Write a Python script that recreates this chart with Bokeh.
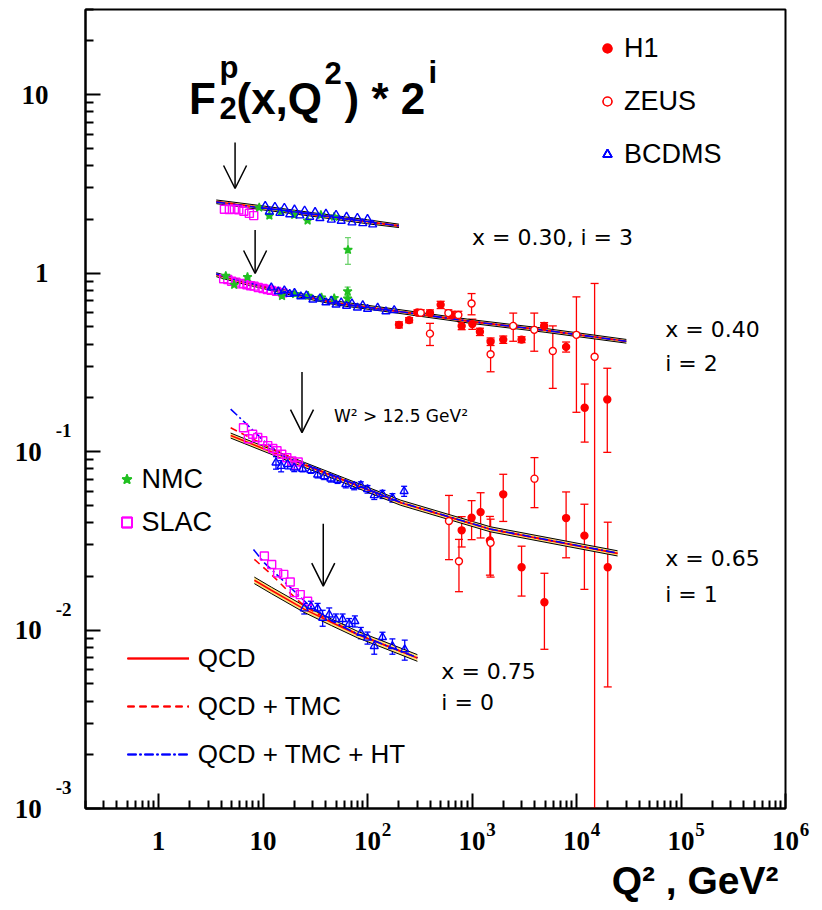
import math
from bokeh.plotting import figure
from bokeh.models import (ColumnDataSource, Range1d, FixedTicker, Whisker, TeeHead,
                          Arrow, OpenHead, Label, Legend, LegendItem, LogAxis,
                          AllLabels, Title)
from bokeh.embed import file_html
from bokeh.resources import INLINE

# ---------------------------------------------------------------------------
# Proton structure function F2(x, Q^2), each x bin scaled by 2^i
# (all values below are F2 * 2^i, Q^2 in GeV^2)
# ---------------------------------------------------------------------------

# ---- x = 0.30, i = 3 ----
slac_q2_030 = [4.27, 4.76, 5.32, 5.86, 6.55, 7.40, 8.15]
slac_f2_030 = [2.28, 2.27, 2.28, 2.26, 2.22, 2.16, 2.10]
nmc_q2_030 = [9.2, 11.5, 14.9, 19.9, 26.7, 35.8, 48.0, 65.0]
nmc_f2_030 = [2.33, 2.10, 2.21, 2.12, 1.97, 2.12, 2.07, 1.35]
nmc_err_030 = [0.03, 0.03, 0.03, 0.03, 0.03, 0.03, 0.03, 0.23]
bcdms_q2_030 = [10.5, 11.5, 13, 14.5, 16, 18, 20, 22.5, 25, 28, 31.5, 35, 40, 45,
                50, 56, 63, 71, 80, 90, 100, 112]
bcdms_f2_030 = [2.38, 2.21, 2.35, 2.17, 2.32, 2.13, 2.27, 2.10, 2.24, 2.06, 2.20,
                2.03, 2.15, 1.99, 2.12, 1.96, 2.07, 1.92, 2.04, 1.90, 2.01, 1.87]
qcd_q2_030 = [3.57, 10, 30, 100, 200]
qcd_f2_030 = [2.51, 2.32, 2.13, 1.94, 1.84]
qcd_lo_030 = [2.45, 2.26, 2.08, 1.89, 1.80]
qcd_hi_030 = [2.57, 2.38, 2.18, 1.99, 1.88]
tmc_f2_030 = [2.52, 2.32, 2.13, 1.94, 1.84]
ht_f2_030 = [2.50, 2.31, 2.13, 1.94, 1.84]

# ---- x = 0.40, i = 2 ----
slac_q2_040 = [4.2, 4.6, 5.0, 5.5, 6.0, 6.5, 7.0, 7.6, 8.2, 9.0, 10, 11, 12, 13.5, 15.5]
slac_f2_040 = [0.93, 0.92, 0.90, 0.89, 0.87, 0.875, 0.86, 0.85, 0.845, 0.83, 0.82,
               0.81, 0.80, 0.79, 0.775]
nmc_q2_040 = [4.4, 5.3, 7.1, 15.2, 20.3, 27.0, 36.3, 48.0, 64.5, 64.5]
nmc_f2_040 = [0.965, 0.86, 0.95, 0.745, 0.763, 0.746, 0.73, 0.724, 0.79, 0.72]
nmc_err_040 = [0.015, 0.015, 0.015, 0.012, 0.012, 0.012, 0.012, 0.012, 0.045, 0.03]
bcdms_q2_040 = [12, 14, 16, 18, 20, 23, 26, 30, 35, 40, 45, 50, 56, 63, 71, 80, 90,
                100, 125, 150, 180]
bcdms_f2_040 = [0.83, 0.79, 0.80, 0.765, 0.775, 0.74, 0.75, 0.71, 0.72, 0.685, 0.70,
                0.665, 0.685, 0.655, 0.675, 0.64, 0.66, 0.63, 0.64, 0.61, 0.62]
h1_q2_040 = [200, 250, 300, 396, 501, 638, 796, 1007, 1190, 1506, 1990, 2980, 4900,
             7950, 11970, 19700]
h1_f2_040 = [0.513, 0.545, 0.601, 0.597, 0.664, 0.583, 0.506, 0.518, 0.469, 0.413,
             0.424, 0.424, 0.506, 0.386, 0.176, 0.196]
h1_err_040 = [0.02, 0.018, 0.021, 0.025, 0.031, 0.028, 0.024, 0.034, 0.022, 0.020,
              0.020, 0.016, 0.022, 0.025, 0.063, 0.097]
zeus_q2_040 = [323, 396, 594, 740, 990, 1506, 2480, 3940, 5930, 9980, 14900]
zeus_f2_040 = [0.60, 0.458, 0.597, 0.583, 0.676, 0.351, 0.506, 0.481, 0.366, 0.451, 0.34]
zeus_err_040 = [0.023, 0.065, 0.026, 0.028, 0.092, 0.071, 0.091, 0.116, 0.14, 0.285, 0.535]
qcd_q2_040 = [3.57, 6, 10, 23, 50, 200, 1000, 5000, 30000]
qcd_f2_040 = [0.98, 0.90, 0.84, 0.75, 0.68, 0.61, 0.535, 0.478, 0.415]
qcd_lo_040 = [0.955, 0.878, 0.819, 0.731, 0.663, 0.595, 0.522, 0.466, 0.405]
qcd_hi_040 = [1.005, 0.922, 0.861, 0.769, 0.697, 0.625, 0.548, 0.490, 0.425]
tmc_f2_040 = [0.985, 0.90, 0.84, 0.75, 0.68, 0.61, 0.535, 0.478, 0.415]
ht_f2_040 = [0.99, 0.905, 0.843, 0.75, 0.68, 0.61, 0.535, 0.478, 0.415]

# ---- x = 0.65, i = 1 ----
slac_q2_065 = [6.5, 7.24, 7.95, 8.9, 9.94, 11.1, 12.4, 13.6, 15.1, 16.9, 18.9, 21.7, 20.7]
slac_f2_065 = [0.136, 0.118, 0.125, 0.12, 0.115, 0.108, 0.104, 0.101, 0.0966, 0.0924,
               0.0885, 0.0874, 0.0838]
bcdms_q2_065 = [13.3, 14.9, 17.2, 19.9, 23.9, 28.7, 33.3, 38.5, 44.6, 51.7, 62, 74.5,
                86.3, 100, 116, 139, 173, 224]
bcdms_f2_065 = [0.0867, 0.083, 0.085, 0.0812, 0.080, 0.0785, 0.0742, 0.0727, 0.0705,
                0.0693, 0.0656, 0.0641, 0.0647, 0.0615, 0.0569, 0.0576, 0.0551, 0.060]
bcdms_err_065 = [0.007, 0.006, 0.005, 0.004, 0.003, 0.003, 0.003, 0.003, 0.003, 0.003,
                 0.003, 0.003, 0.003, 0.003, 0.003, 0.003, 0.003, 0.0039]
h1_q2_065 = [796, 991, 1208, 1483, 1990, 2980, 4930, 7950, 11900, 19900]
h1_f2_065 = [0.0362, 0.0426, 0.0458, 0.0318, 0.0576, 0.0225, 0.0143, 0.0424, 0.0338, 0.0225]
h1_err_065 = [0.007, 0.0105, 0.013, 0.0115, 0.017, 0.007, 0.0065, 0.017, 0.0169, 0.0177]
zeus_q2_065 = [602, 750, 1506, 3960]
zeus_f2_065 = [0.0408, 0.0243, 0.0308, 0.0705]
zeus_err_065 = [0.016, 0.0079, 0.011, 0.022]
qcd_q2_065 = [4.9, 10, 25, 60, 208, 1500, 24700]
qcd_f2_065 = [0.123, 0.104, 0.0842, 0.0689, 0.0517, 0.0367, 0.0269]
qcd_lo_065 = [0.119, 0.1007, 0.0815, 0.0667, 0.0500, 0.0355, 0.0260]
qcd_hi_065 = [0.127, 0.1073, 0.0869, 0.0711, 0.0534, 0.0379, 0.0278]
tmc_f2_065 = [0.136, 0.110, 0.0848, 0.0691, 0.0518, 0.0367, 0.0269]
ht_q2_065 = [4.9, 7, 10, 15, 20, 25, 60, 208, 1500, 24700]
ht_f2_065 = [0.173, 0.142, 0.116, 0.0955, 0.089, 0.0855, 0.0695, 0.0519, 0.0368, 0.0270]

# ---- x = 0.75, i = 0 ----
slac_q2_075 = [10.3, 12.1, 13.8, 15.8, 18.2, 19.9, 22.7, 26.7]
slac_f2_075 = [0.026, 0.0233, 0.0209, 0.0205, 0.0186, 0.0162, 0.0158, 0.0145]
bcdms_q2_075 = [24.8, 28.7, 33.3, 37.2, 43, 49.8, 57.7, 66.7, 75.7, 86.3, 100, 116,
                139, 173, 227]
bcdms_f2_075 = [0.0132, 0.0136, 0.0132, 0.0117, 0.0122, 0.0115, 0.0115, 0.0108, 0.0112,
                0.00964, 0.00904, 0.00812, 0.00912, 0.00812, 0.00778]
bcdms_err_075 = [0.0009, 0.0009, 0.0009, 0.0012, 0.0011, 0.0008, 0.0008, 0.0008, 0.0008,
                 0.0007, 0.0007, 0.0008, 0.0006, 0.0008, 0.0010]
qcd_q2_075 = [8.26, 12, 24.8, 45, 80, 150, 300]
qcd_f2_075 = [0.0190, 0.0167, 0.0131, 0.01107, 0.00945, 0.00819, 0.00698]
qcd_lo_075 = [0.0182, 0.0160, 0.01255, 0.0106, 0.00905, 0.00784, 0.00668]
qcd_hi_075 = [0.0198, 0.0174, 0.01367, 0.01155, 0.00985, 0.00854, 0.00728]
tmc_q2_075 = [8.26, 12, 18, 24.8, 45, 80, 150, 300]
tmc_f2_075 = [0.0249, 0.0205, 0.0162, 0.0136, 0.0112, 0.0095, 0.0082, 0.0070]
ht_q2_075 = [8.1, 10.3, 18.5, 26.7, 45, 80, 150, 300]
ht_f2_075 = [0.0283, 0.0238, 0.0172, 0.0140, 0.0113, 0.0095, 0.0082, 0.0070]

# W^2 > 12.5 GeV^2 cut position in each bin
cut_q2 = [5.4, 8.4, 23.6, 37.7]

# axis ticks (power-of-ten labels split into base and exponent)
y_tick_vals = [1e-3, 1e-2, 1e-1, 1, 10]
y_tick_base = ["10", "10", "10", "1", "10"]
y_tick_exp = ["-3", "-2", "-1", "", ""]
x_tick_vals = [1, 10, 1e2, 1e3, 1e4, 1e5, 1e6]
x_tick_base = ["1", "10", "10", "10", "10", "10", "10"]
x_tick_exp = ["", "", "2", "3", "4", "5", "6"]

Y_MIN, Y_MAX = 1e-3, 30
X_MIN, X_MAX = 0.2, 1e6
FRAME_W, FRAME_H = 700, 799

RED = "#ff0000"
BLUE = "#0000ff"
GREEN = "#22c022"
MAGENTA = "#ff00ff"
SERIF = "Liberation Serif"
SANS = "Liberation Sans"
NOTE = "DejaVu Sans"
NBSP = "\u00a0"

p = figure(frame_width=FRAME_W, frame_height=FRAME_H,
           x_axis_type="log", y_axis_type="log",
           x_range=Range1d(X_MIN, X_MAX), y_range=Range1d(Y_MIN, Y_MAX),
           output_backend="svg", toolbar_location=None,
           min_border_left=85, min_border_right=37,
           min_border_top=9, min_border_bottom=102)
p.xgrid.visible = False
p.ygrid.visible = False
p.background_fill_color = "white"
p.border_fill_color = "white"
p.outline_line_color = "black"
p.outline_line_width = 2

# ---------------- axes ----------------
x_minor = [k * 10.0 ** e for e in range(-1, 6) for k in range(2, 10)]
y_minor = [k * 10.0 ** e for e in range(-3, 2) for k in range(2, 10)]

# innermost axes carry only the ticks
for ax, majors, minors in ((p.xaxis[0], x_tick_vals, x_minor),
                           (p.yaxis[0], y_tick_vals, y_minor)):
    ax.ticker = FixedTicker(ticks=majors, minor_ticks=minors)
    ax.major_label_overrides = {v: NBSP for v in majors}
    ax.major_label_text_font_size = "1px"
    ax.major_label_standoff = 0
    ax.major_tick_in = 15
    ax.major_tick_out = 0
    ax.minor_tick_in = 8
    ax.minor_tick_out = 0
    ax.axis_line_width = 2
    ax.major_tick_line_width = 2
    ax.minor_tick_line_width = 2
    ax.axis_line_color = "black"


def label_axis(ticks, labels, size, standoff, **kw):
    return LogAxis(ticker=FixedTicker(ticks=ticks),
                   major_label_overrides=dict(zip(ticks, labels)),
                   major_label_text_font=SERIF, major_label_text_font_style="bold",
                   major_label_text_font_size=size, major_label_text_color="black",
                   major_label_standoff=standoff, major_label_policy=AllLabels(),
                   axis_line_color=None, major_tick_line_color=None,
                   minor_tick_line_color=None, major_tick_in=0, major_tick_out=0,
                   minor_tick_in=0, minor_tick_out=0, **kw)


# y exponents sit ~21 px above their tick: a shifted copy of the y range
px_per_decade_y = FRAME_H / math.log10(Y_MAX / Y_MIN)
shift_y = 10 ** (21 / px_per_decade_y)
p.extra_y_ranges = {"exp": Range1d(Y_MIN / shift_y, Y_MAX / shift_y)}
y_exp_ticks = [v for v, e in zip(y_tick_vals, y_tick_exp) if e]
y_exp_text = [e for e in y_tick_exp if e]
p.add_layout(label_axis(y_exp_ticks, y_exp_text, "19px", 11, y_range_name="exp"), "left")
p.add_layout(label_axis(y_tick_vals,
                        [b + (NBSP if e else "") for b, e in zip(y_tick_base, y_tick_exp)],
                        "27px", 4), "left")

# x exponents: padded on the left so they fall right of the "10"
x_exp_ticks = [v for v, e in zip(x_tick_vals, x_tick_exp) if e]
x_exp_text = [NBSP * 8 + e for e in x_tick_exp if e]
p.add_layout(label_axis(x_exp_ticks, x_exp_text, "19px", 6), "below")
p.add_layout(label_axis(x_tick_vals, x_tick_base, "27px", -11), "below")

p.add_layout(Title(text="Q²" + NBSP + ", GeV²", align="right", offset=7, standoff=8,
                   text_font=SANS, text_font_style="bold", text_font_size="39px",
                   text_color="black"), "below")


# ---------------- theory curves ----------------
def draw_curves(q2, f2, lo, hi, tmc_q2, tmc, ht_q2, ht):
    p.varea(x=q2, y1=lo, y2=hi, fill_color="#ffe27a")
    p.line(q2, lo, line_color="black", line_width=1)
    p.line(q2, hi, line_color="black", line_width=1)
    r_qcd = p.line(q2, f2, line_color=RED, line_width=1.6)
    r_tmc = p.line(tmc_q2, tmc, line_color=RED, line_width=1.6, line_dash="7 5")
    r_ht = p.line(ht_q2, ht, line_color=BLUE, line_width=1.6, line_dash="9 3 2 3")
    return r_qcd, r_tmc, r_ht


curves = [
    draw_curves(qcd_q2_030, qcd_f2_030, qcd_lo_030, qcd_hi_030,
                qcd_q2_030, tmc_f2_030, qcd_q2_030, ht_f2_030),
    draw_curves(qcd_q2_040, qcd_f2_040, qcd_lo_040, qcd_hi_040,
                qcd_q2_040, tmc_f2_040, qcd_q2_040, ht_f2_040),
    draw_curves(qcd_q2_065, qcd_f2_065, qcd_lo_065, qcd_hi_065,
                qcd_q2_065, tmc_f2_065, ht_q2_065, ht_f2_065),
    draw_curves(qcd_q2_075, qcd_f2_075, qcd_lo_075, qcd_hi_075,
                tmc_q2_075, tmc_f2_075, ht_q2_075, ht_f2_075),
]


# ---------------- data points ----------------
def draw_points(q2, f2, err, marker, size, line_color, fill_color,
                err_color=None, cap=7):
    src = ColumnDataSource(dict(q2=q2, f2=f2))
    if err is not None:
        src.data["lo"] = [max(v - e, Y_MIN) for v, e in zip(f2, err)]
        src.data["hi"] = [v + e for v, e in zip(f2, err)]
        ec = err_color or line_color
        p.add_layout(Whisker(source=src, base="q2", lower="lo", upper="hi",
                             dimension="height", line_color=ec, line_width=1.3,
                             upper_head=TeeHead(size=cap, line_color=ec, line_width=1.3),
                             lower_head=TeeHead(size=cap, line_color=ec, line_width=1.3)))
    return p.scatter("q2", "f2", source=src, marker=marker, size=size,
                     line_color=line_color, fill_color=fill_color, line_width=1.4)


slac_r = [draw_points(q, f, None, "square", 8, MAGENTA, None)
          for q, f in ((slac_q2_030, slac_f2_030), (slac_q2_040, slac_f2_040),
                       (slac_q2_065, slac_f2_065), (slac_q2_075, slac_f2_075))]
nmc_r = [draw_points(q, f, e, "star", 9, GREEN, GREEN, err_color="#6fd26f", cap=6)
         for q, f, e in ((nmc_q2_030, nmc_f2_030, nmc_err_030),
                         (nmc_q2_040, nmc_f2_040, nmc_err_040))]
bcdms_r = [draw_points(bcdms_q2_030, bcdms_f2_030, None, "triangle", 8, BLUE, None),
           draw_points(bcdms_q2_040, bcdms_f2_040, None, "triangle", 8, BLUE, None),
           draw_points(bcdms_q2_065, bcdms_f2_065, bcdms_err_065, "triangle", 8, BLUE, None, cap=6),
           draw_points(bcdms_q2_075, bcdms_f2_075, bcdms_err_075, "triangle", 8, BLUE, None, cap=6)]
h1_r = [draw_points(q, f, e, "circle", 7, RED, RED, cap=8)
        for q, f, e in ((h1_q2_040, h1_f2_040, h1_err_040),
                        (h1_q2_065, h1_f2_065, h1_err_065))]
zeus_r = [draw_points(q, f, e, "circle", 7, RED, "white", cap=8)
          for q, f, e in ((zeus_q2_040, zeus_f2_040, zeus_err_040),
                          (zeus_q2_065, zeus_f2_065, zeus_err_065))]

# ---------------- W^2 cut arrows ----------------
arrow_top = [5.40, 1.742, 0.2796, 0.0394]
arrow_tip = [2.98, 0.995, 0.1277, 0.01763]
for q, y0, y1 in zip(cut_q2, arrow_top, arrow_tip):
    p.add_layout(Arrow(x_start=q, y_start=y0, x_end=q, y_end=y1,
                       line_color="black", line_width=1.5,
                       end=OpenHead(size=23, line_color="black", line_width=1.5)))


# ---------------- texts inside the frame ----------------
def text(t, x, y, size, font=NOTE, style="normal", units="data"):
    p.add_layout(Label(x=x, y=y, x_units=units, y_units=units, text=t,
                       text_font=font, text_font_style=style, text_font_size=size,
                       text_align="left", text_baseline="alphabetic", text_color="black"))


text("x = 0.30, i = 3", 1000, 1.58, "22px")
text("x = 0.40", 7.06e4, 0.481, "22px")
text("i = 2", 7.06e4, 0.31, "22px")
text("x = 0.65", 7.06e4, 0.0253, "22px")
text("i = 1", 7.06e4, 0.0159, "22px")
text("x = 0.75", 509, 0.00588, "22px")
text("i = 0", 509, 0.00391, "22px")
text("W² > 12.5 GeV²", 47.7, 0.158, "17px")

# plot title F2^p(x,Q^2) * 2^i (screen units relative to the frame)
text("F", 103.5, 709.7, "44px", SANS, "bold", "screen")
text("p", 134, 741, "31px", SANS, "bold", "screen")
text("2", 134, 701, "31px", SANS, "bold", "screen")
text("(x,Q", 151, 709.7, "44px", SANS, "bold", "screen")
text("2", 239, 736, "31px", SANS, "bold", "screen")
text(") * 2", 259, 709.7, "44px", SANS, "bold", "screen")
text("i", 343, 736, "31px", SANS, "bold", "screen")

# ---------------- legends ----------------
common = dict(orientation="vertical", padding=0, margin=0, border_line_color=None,
              background_fill_alpha=0, label_text_font=SANS, label_text_color="black",
              glyph_height=32, label_height=32)
p.add_layout(Legend(items=[LegendItem(label="H1", renderers=h1_r),
                           LegendItem(label="ZEUS", renderers=zeus_r),
                           LegendItem(label="BCDMS", renderers=bcdms_r)],
                    location=(511, 638), glyph_width=22, spacing=21,
                    label_standoff=6, label_text_font_size="27px", **common))
p.add_layout(Legend(items=[LegendItem(label="NMC", renderers=nmc_r),
                           LegendItem(label="SLAC", renderers=slac_r)],
                    location=(28.5, 270), glyph_width=25, spacing=11,
                    label_standoff=3, label_text_font_size="27px", **common))
p.add_layout(Legend(items=[LegendItem(label="QCD", renderers=[c[0] for c in curves]),
                           LegendItem(label="QCD + TMC", renderers=[c[1] for c in curves]),
                           LegendItem(label="QCD + TMC + HT", renderers=[c[2] for c in curves])],
                    location=(41.7, 38), glyph_width=62, spacing=16,
                    label_standoff=9, label_text_font_size="26px", **common))

open("out.html", "w").write(file_html(p, INLINE))
